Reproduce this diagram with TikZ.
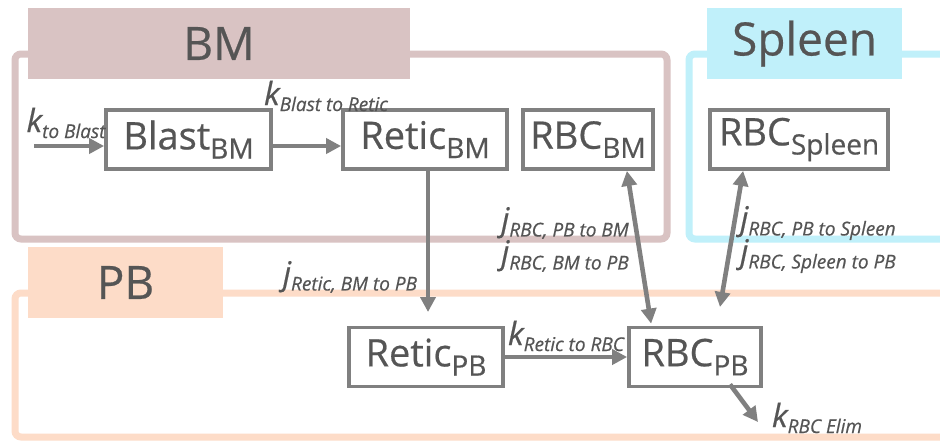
\documentclass[tikz,border=0pt]{standalone}
\usepackage{fontspec}
\setmainfont{Open Sans}[FakeBold=0.5]
\usetikzlibrary{arrows.meta,positioning,calc}

\definecolor{bmcol}{HTML}{D9C3C3}
\definecolor{spleencol}{HTML}{C0F0FA}
\definecolor{pbcol}{HTML}{FDDCC8}
\definecolor{txtcol}{HTML}{555555}
\definecolor{arrcol}{HTML}{808080}

% compartment name with its site as subscript
\newcommand{\cmp}[2]{#1\raisebox{-0.45ex}{\fontsize{14}{14}\selectfont #2}}
% rate constant with italic subscript
\newcommand{\rate}[2]{{\fontsize{16}{16}\selectfont\itshape #1}\raisebox{-0.55ex}{\fontsize{9.5}{10}\selectfont\itshape #2}}

\tikzset{
	region/.style={line width=3.5pt,rounded corners=3pt},
	regionlabel/.style={inner sep=0pt,minimum width=97.5pt,minimum height=35.5pt,text=txtcol,font=\fontsize{23}{23}\selectfont},
	comp/.style={draw=arrcol,line width=1.9pt,inner sep=0pt,minimum height=29.5pt,text=txtcol,font=\fontsize{19}{19}\selectfont},
	flow/.style={draw=arrcol,line width=2.3pt,-{Triangle[length=7.5pt,width=7.5pt]}},
	twoway/.style={flow,{Triangle[length=7.5pt,width=7.5pt]}-{Triangle[length=7.5pt,width=7.5pt]}},
	ratelabel/.style={inner sep=0pt,text=txtcol}
}

\begin{document}
\begin{tikzpicture}[x=0.5pt,y=-0.5pt]
	\clip (0,0) rectangle (940,441);
	\fill[white] (0,0) rectangle (940,441);
	% the three sites
	\draw[region,draw=bmcol] (15,54) rectangle (667,239);
	\draw[region,draw=spleencol] (689,54) rectangle (980,239);
	\draw[region,draw=pbcol] (15,293) rectangle (980,437);
	\node[regionlabel,fill=bmcol,minimum width=191pt] (bm) at (219,43.5) {BM};
	\node[regionlabel,fill=spleencol] (spleen) at (804.5,43.5) {Spleen};
	\node[regionlabel,fill=pbcol] (pb) at (125.5,282.5) {PB};

	% compartments
	\node[comp,minimum width=82.5pt] (blastBM) at (188.5,139.5) {\cmp{Blast}{BM}};
	\node[comp,minimum width=82pt] (reticBM) at (425,139.5) {\cmp{Retic}{BM}};
	\node[comp,minimum width=65pt] (rbcBM) at (588,139.5) {\cmp{RBC}{BM}};
	\node[comp,minimum width=89pt] (rbcSpleen) at (799,139.5) {\cmp{RBC}{Spleen}};
	\node[comp,minimum width=77pt] (reticPB) at (426,357) {\cmp{Retic}{PB}};
	\node[comp,minimum width=66pt] (rbcPB) at (695,357) {\cmp{RBC}{PB}};

	\coordinate (inBlast) at (34,146);
	\coordinate (reticIn) at (428,312);
	\coordinate (spleenOut) at (720,307);
	\coordinate (elim) at (758,422);

	% transfers
	\draw[flow] (inBlast) -- (inBlast -| blastBM.west);
	\draw[flow] (blastBM.east |- inBlast) -- (reticBM.west |- inBlast);
	\draw[flow] (reticBM.south -| reticIn) -- (reticIn);
	\draw[flow] (reticPB.east) -- (rbcPB.west);
	\draw[twoway] ($(rbcBM.south east)+(-28,0)$) -- ($(rbcPB.north west)+(24,-2)$);
	\draw[twoway] ($(rbcSpleen.south west)+(35,0)$) -- (spleenOut);
	\draw[flow] ($(rbcPB.south)+(35,-4)$) -- (elim);

	% rate labels
	\node[ratelabel] (kin) at (66,123) {\rate{k}{to Blast}};
	\node[ratelabel] (kbr) at (326,96) {\rate{k}{Blast to Retic}};
	\node[ratelabel] (jretic) at (350,277) {\rate{j}{Retic, BM to PB}};
	\node[ratelabel] (jpbbm) at (565,223) {\rate{j}{RBC, PB to BM}};
	\node[ratelabel] (jbmpb) at (565,256) {\rate{j}{RBC, BM to PB}};
	\node[ratelabel] (jpbsp) at (818,223) {\rate{j}{RBC, PB to Spleen}};
	\node[ratelabel] (jsppb) at (818,256) {\rate{j}{RBC, Spleen to PB}};
	\node[ratelabel] (krr) at (566,336) {\rate{k}{Retic to RBC}};
	\node[ratelabel] (kel) at (817,418) {\rate{k}{RBC Elim}};
\end{tikzpicture}
\end{document}
